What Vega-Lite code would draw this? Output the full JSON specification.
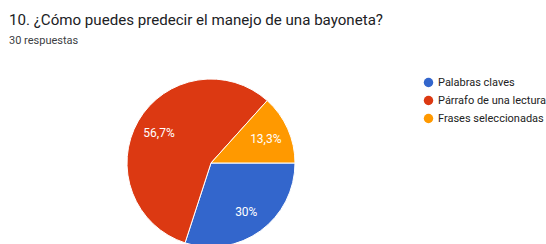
{
  "$schema": "https://vega.github.io/schema/vega-lite/v6.json",
  "width": 422,
  "height": 168,
  "autosize": {"type": "none"},
  "padding": {"left": 0, "top": 79, "right": 124, "bottom": 0},
  "background": "white",
  "title": {
    "text": "10. ¿Cómo puedes predecir el manejo de una bayoneta?",
    "subtitle": "30 respuestas",
    "anchor": "start",
    "frame": "group",
    "dx": 9,
    "offset": 31,
    "font": "Roboto",
    "fontSize": 15.1,
    "fontWeight": "normal",
    "color": "#202124",
    "subtitleFont": "Roboto",
    "subtitleFontSize": 11,
    "subtitleColor": "#3c4043",
    "subtitlePadding": 7
  },
  "data": {
    "values": [
      {"opcion": "Palabras claves", "respuestas": 9, "etiqueta": "30%", "orden": 1},
      {"opcion": "Párrafo de una lectura", "respuestas": 17, "etiqueta": "56,7%", "orden": 2},
      {"opcion": "Frases seleccionadas", "respuestas": 4, "etiqueta": "13,3%", "orden": 3}
    ]
  },
  "encoding": {
    "theta": {"field": "respuestas", "type": "quantitative", "stack": true, "scale": {"range": [1.5708, 7.854]}},
    "order": {"field": "orden", "type": "quantitative"}
  },
  "layer": [
    {
      "mark": {"type": "arc", "radius": 84, "stroke": "white", "strokeWidth": 1},
      "encoding": {
        "color": {
          "field": "opcion",
          "type": "nominal",
          "scale": {
            "domain": ["Palabras claves", "Párrafo de una lectura", "Frases seleccionadas"],
            "range": ["#3366cc", "#dc3912", "#ff9900"]
          },
          "legend": {
            "title": null,
            "orient": "none",
            "legendX": 423,
            "legendY": -2,
            "symbolType": "circle",
            "symbolSize": 90,
            "symbolStrokeWidth": 0,
            "labelFont": "Roboto",
            "labelFontSize": 11,
            "labelColor": "#222222",
            "labelOffset": 4,
            "rowPadding": 6,
            "padding": 0
          }
        }
      }
    },
    {
      "mark": {"type": "text", "radius": 60, "font": "Roboto", "fontSize": 12, "fill": "white"},
      "encoding": {
        "text": {"field": "etiqueta", "type": "nominal"}
      }
    }
  ],
  "config": {"view": {"stroke": null}}
}
